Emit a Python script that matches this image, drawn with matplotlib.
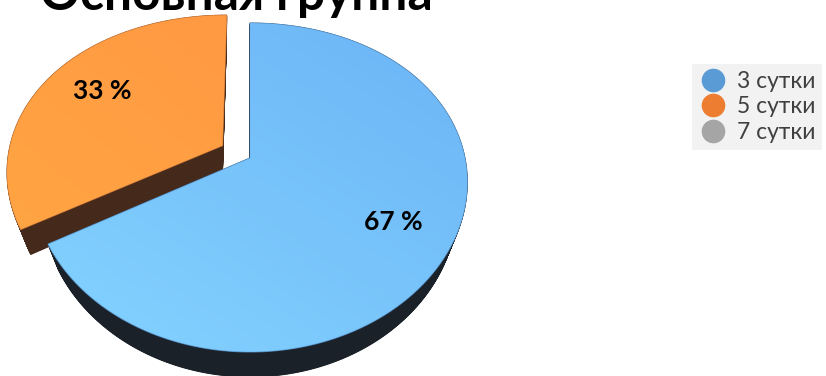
import numpy as np
import matplotlib
matplotlib.use("Agg")
import matplotlib.pyplot as plt
from matplotlib.patches import Polygon
from matplotlib.lines import Line2D
from matplotlib.colors import LinearSegmentedColormap

# ---- data ----
title = "Основная группа"
categories = ["3 сутки", "5 сутки", "7 сутки"]
values = [67, 33, 0]
explode = [0.0, 0.15, 0.0]
legend_colors = ["#5B9BD5", "#ED7D31", "#A5A5A5"]
top_dark = ["#6BB4F6", "#FF9942", "#A5A5A5"]
top_light = ["#84D3FF", "#FFA543", "#BBBBBB"]
side_colors = ["#1B2129", "#45291A", "#555555"]

# ---- figure ----
W, H = 826, 376
fig = plt.figure(figsize=(W / 100, H / 100), dpi=100)
ax = fig.add_axes([0, 0, 1, 1])
ax.set_xlim(0, W)
ax.set_ylim(H, 0)
ax.axis("off")

# let matplotlib compute the pie geometry
scratch = fig.add_axes([0, 0, 0.1, 0.1])
wedges, _, autotexts = scratch.pie(values, explode=explode, startangle=90,
                                   counterclock=False, radius=1,
                                   autopct=lambda p: "%d %%" % round(p) if p > 0 else "",
                                   pctdistance=0.72)
geo = [(w.center, w.r, w.theta1, w.theta2) for w in wedges]
pct = [(t.get_position(), t.get_text()) for t in autotexts]
fig.delaxes(scratch)

# perspective-like projection of the unit pie to the page
CX, A, K = 250.0, 215.0, 0.15
Y0, B1, B2 = 158.0, 164.5, 29.5
DEPTH = 25.0
SHRINK = 0.95


def proj(x, y):
    x = np.asarray(x, float)
    y = np.asarray(y, float)
    return CX + A * x * (1 - K * y), Y0 - B1 * y + B2 * y ** 2


def slice_xy(center, r, t1, t2, n=240):
    th = np.radians(np.linspace(t1, t2, n))
    xs = np.concatenate([[center[0]], center[0] + r * np.cos(th)])
    ys = np.concatenate([[center[1]], center[1] + r * np.sin(th)])
    px, py = proj(xs, ys)
    return np.column_stack([px, py])


order = sorted([i for i in range(len(values)) if values[i] > 0],
               key=lambda i: -geo[i][0][1])

z = 1
for i in order:
    c, r, t1, t2 = geo[i]
    xy = slice_xy(c, r, t1, t2)
    tipx = xy[0, 0]
    # side wall (extrusion, converging downward toward the slice tip)
    for dz in np.linspace(DEPTH, 0, 50):
        s = 1 - (1 - SHRINK) * dz / DEPTH
        b = np.column_stack([tipx + (xy[:, 0] - tipx) * s, xy[:, 1] + dz])
        ax.add_patch(Polygon(b, closed=True, facecolor=side_colors[i],
                             edgecolor=side_colors[i], lw=0.6, zorder=z))
    z += 1
    # top face with gradient
    poly = Polygon(xy, closed=True, facecolor="none", edgecolor="none", zorder=z)
    ax.add_patch(poly)
    xmin, ymin = xy.min(axis=0)
    xmax, ymax = xy.max(axis=0)
    gx, gy = np.meshgrid(np.linspace(0, 1, 200), np.linspace(0, 1, 200))
    grad = ((1 - gx) * 0.45 + gy * 0.55)
    cmap = LinearSegmentedColormap.from_list("g%d" % i, [top_dark[i], top_light[i]])
    im = ax.imshow(grad, extent=(xmin, xmax, ymax, ymin), cmap=cmap, aspect="auto",
                   interpolation="bilinear", zorder=z, origin="upper")
    im.set_clip_path(poly)
    z += 1
    ax.add_patch(Polygon(xy, closed=True, facecolor="none", edgecolor=top_dark[i],
                         lw=0.8, alpha=0.6, zorder=z))
    z += 1

ax.set_xlim(0, W)
ax.set_ylim(H, 0)

# percentage labels
for (pos, txt) in pct:
    if not txt:
        continue
    px, py = proj(pos[0], pos[1])
    ax.text(px + 3, py, txt, ha="center", va="center", fontsize=19,
            fontfamily="Lato", fontweight="bold", color="black", zorder=50)

# title (top part cut off as in the reference)
t = ax.text(236, 10, title, ha="center", va="baseline", fontsize=30,
            fontfamily="Lato", fontweight="bold", color="black", zorder=50)
fig.canvas.draw()
wpx = t.get_window_extent().width
t.set_fontsize(30 * 392.0 / wpx)

# legend
handles = [Line2D([], [], marker="o", ls="", markersize=16,
                  markerfacecolor=c, markeredgecolor=c) for c in legend_colors]
leg = fig.legend(handles, categories, loc="upper left",
                 bbox_to_anchor=(692 / W, 1 - 64 / H), borderaxespad=0,
                 frameon=True, facecolor="#F2F2F2", edgecolor="none",
                 fancybox=False, framealpha=1,
                 handletextpad=0.45, labelspacing=0.2, borderpad=0.3,
                 handlelength=1.2, prop={"family": "Lato", "size": 16.5})
for tx in leg.get_texts():
    tx.set_color("#404040")

fig.savefig("out.png", dpi=100)
